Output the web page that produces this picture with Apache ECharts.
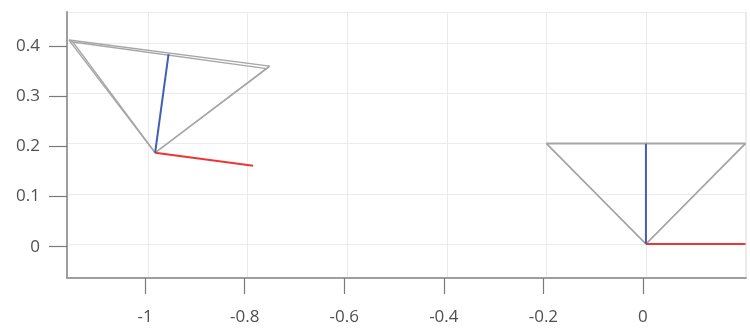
<!DOCTYPE html>
<html>
<head>
<meta charset="utf-8">
<script src="https://cdn.jsdelivr.net/npm/echarts@6/dist/echarts.min.js"></script>
<style>
  html, body { margin: 0; padding: 0; background: #fff; }
  #chart { width: 750px; height: 330px; }
</style>
</head>
<body>
<div id="chart"></div>
<script>
// tick labels
const xTicks = [-1, -0.8, -0.6, -0.4, -0.2, 0];
const yTicks = [0, 0.1, 0.2, 0.3, 0.4];

// camera 1 (tilted)
const cam1Apex = [-0.986, 0.182];
const cam1Corners = [[-1.159, 0.407], [-0.756, 0.355], [-0.762, 0.350], [-1.151, 0.403]];
const cam1AxisX = [-0.789, 0.156];
const cam1AxisY = [-0.959, 0.379];

// camera 2 (at origin)
const cam2Apex = [0, 0];
const cam2Corners = [[-0.2, 0.2], [0.2, 0.2], [0.2, 0.201], [-0.2, 0.201]];
const cam2AxisX = [0.2, 0];
const cam2AxisY = [0, 0.2];

const grey = '#a6a6a6';
const series = [];
function seg(a, b, color, width) {
  series.push({
    type: 'line', data: [a, b], symbol: 'none', silent: true, animation: false,
    lineStyle: { color: color, width: width }
  });
}
[[cam1Apex, cam1Corners, cam1AxisX, cam1AxisY], [cam2Apex, cam2Corners, cam2AxisX, cam2AxisY]].forEach(function (c) {
  const apex = c[0], cs = c[1];
  cs.forEach(function (p, i) {
    seg(apex, p, grey, 1.4);
    seg(p, cs[(i + 1) % cs.length], grey, 1.4);
  });
  seg(apex, c[2], '#ee3535', 2);
  seg(apex, c[3], '#4060b4', 2);
});

const chart = echarts.init(document.getElementById('chart'));
chart.setOption({
  animation: false,
  grid: { left: 67, right: 4, top: 12, bottom: 52 },
  xAxis: [
    {
      type: 'value', min: -1.163, max: 0.201,
      axisLine: { show: false }, axisTick: { show: false }, axisLabel: { show: false },
      splitLine: { show: true, lineStyle: { color: '#ebebeb', width: 1 } },
      splitNumber: 7
    },
    {
      type: 'value', min: -1.157, max: 0.207, position: 'bottom',
      axisLine: { show: true, onZero: false, lineStyle: { color: '#9e9e9e', width: 2 } },
      axisTick: { show: true, length: 16, customValues: xTicks, lineStyle: { color: '#7a7a7a', width: 1.2 } },
      axisLabel: { show: true, customValues: xTicks, margin: 31, color: '#505050', fontSize: 17, fontFamily: 'Open Sans' },
      splitLine: { show: false }
    }
  ],
  yAxis: [
    {
      type: 'value', min: -0.068, max: 0.463,
      axisLine: { show: false }, axisTick: { show: false }, axisLabel: { show: false },
      splitLine: { show: true, lineStyle: { color: '#ebebeb', width: 1 } },
      splitNumber: 5
    },
    {
      type: 'value', min: -0.0625, max: 0.4685, position: 'left',
      axisLine: { show: true, onZero: false, lineStyle: { color: '#9e9e9e', width: 2 } },
      axisTick: { show: true, length: 18, customValues: yTicks, lineStyle: { color: '#7a7a7a', width: 1.2 } },
      axisLabel: { show: true, customValues: yTicks, margin: 27, color: '#505050', fontSize: 17, fontFamily: 'Open Sans' },
      splitLine: { show: false }
    }
  ],
  series: series
});
</script>
</body>
</html>
